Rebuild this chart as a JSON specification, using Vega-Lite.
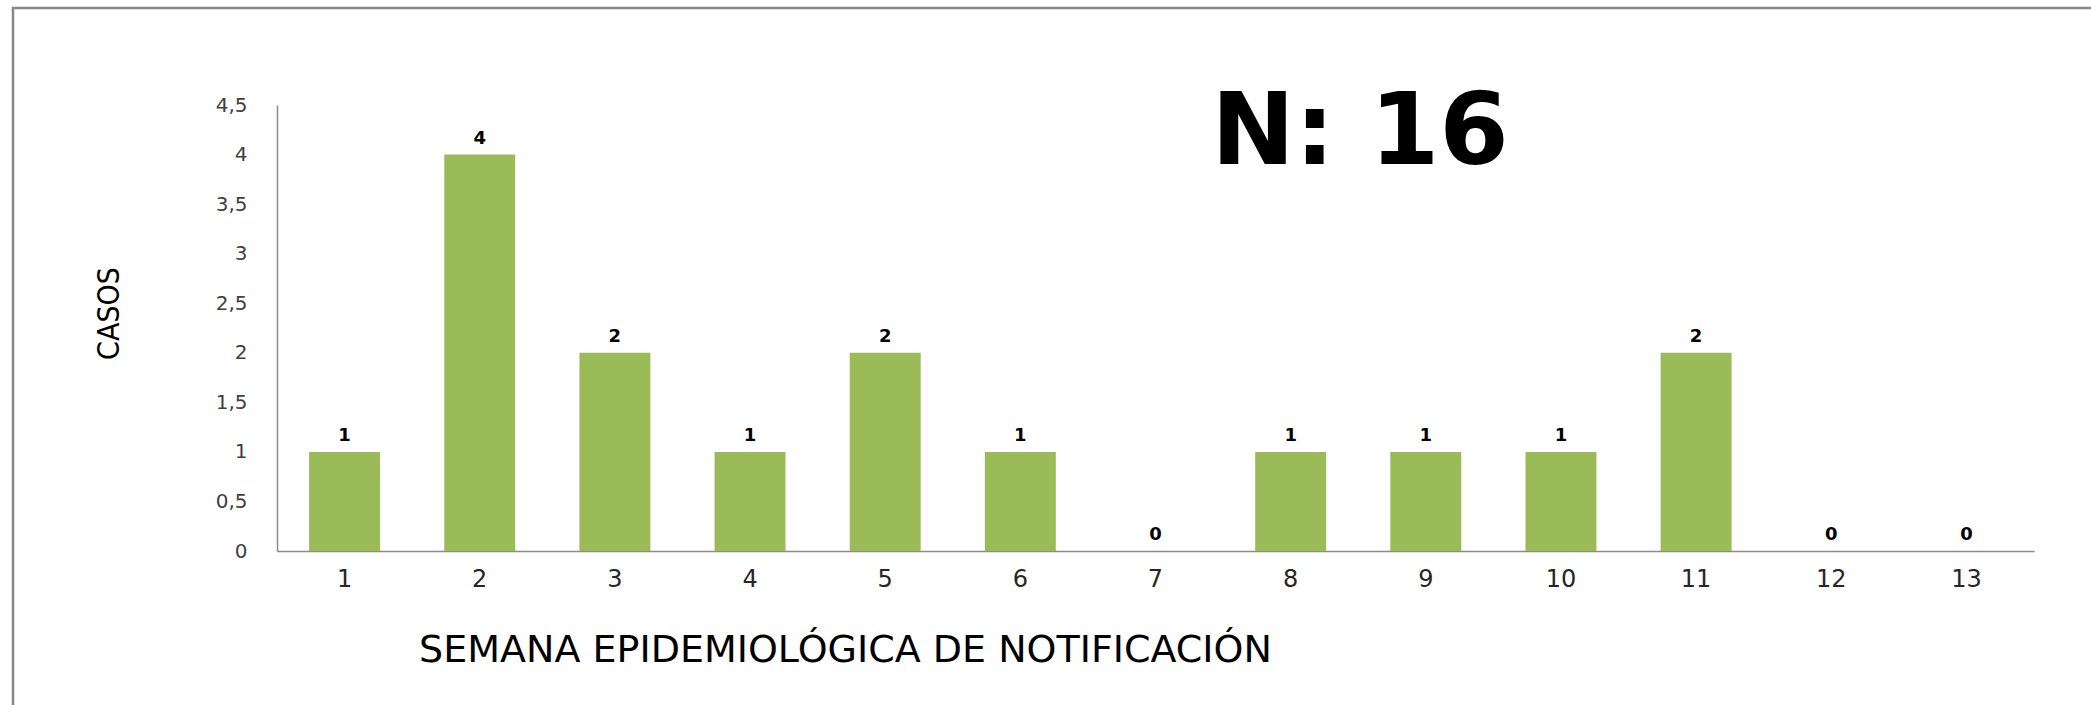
{
  "$schema": "https://vega.github.io/schema/vega-lite/v6.json",
  "width": 2080,
  "height": 720,
  "autosize": {"type": "none"},
  "padding": {"left": 13, "top": 8, "right": -2, "bottom": -23},
  "background": "white",
  "title": {
    "text": "N: 16",
    "font": "DejaVu Sans",
    "fontWeight": "bold",
    "fontSize": 100,
    "color": "#000000",
    "anchor": "middle",
    "frame": "group",
    "baseline": "alphabetic",
    "dx": 307,
    "offset": -256
  },
  "data": {
    "values": [
      {"semana": "1", "casos": 1},
      {"semana": "2", "casos": 4},
      {"semana": "3", "casos": 2},
      {"semana": "4", "casos": 1},
      {"semana": "5", "casos": 2},
      {"semana": "6", "casos": 1},
      {"semana": "7", "casos": 0},
      {"semana": "8", "casos": 1},
      {"semana": "9", "casos": 1},
      {"semana": "10", "casos": 1},
      {"semana": "11", "casos": 2},
      {"semana": "12", "casos": 0},
      {"semana": "13", "casos": 0}
    ]
  },
  "encoding": {
    "x": {
      "field": "semana",
      "type": "ordinal",
      "sort": null,
      "scale": {"range": [264, 2021], "paddingInner": 0.475, "paddingOuter": 0.2375},
      "axis": {
        "offset": -177,
        "title": "SEMANA EPIDEMIOLÓGICA DE NOTIFICACIÓN",
        "titleFont": "DejaVu Sans",
        "titleFontSize": 38,
        "titleFontWeight": "normal",
        "titleColor": "#000000",
        "titleAnchor": null,
        "titleAlign": "center",
        "titleBaseline": "alphabetic",
        "titleX": 832,
        "titleY": 110,
        "labelAngle": 0,
        "labelFont": "DejaVu Sans",
        "labelFontSize": 24,
        "labelColor": "#262626",
        "labelPadding": 16,
        "labelBaseline": "top",
        "ticks": false,
        "domainColor": "#8c8c8c",
        "domainWidth": 1.5
      }
    },
    "y": {
      "field": "casos",
      "type": "quantitative",
      "scale": {"domain": [0, 4.5], "nice": false, "range": [543, 97]},
      "axis": {
        "offset": -264,
        "title": "CASOS",
        "titleFont": "Liberation Sans Narrow, DejaVu Sans Condensed, sans-serif",
        "titleFontSize": 30,
        "titleFontWeight": "normal",
        "titleColor": "#000000",
        "titleAngle": 270,
        "titleAlign": "center",
        "titleBaseline": "middle",
        "titleX": -168,
        "titleY": 305,
        "values": [0, 0.5, 1, 1.5, 2, 2.5, 3, 3.5, 4, 4.5],
        "labelExpr": "replace(toString(datum.value), '.', ',')",
        "labelFont": "DejaVu Sans",
        "labelFontSize": 20,
        "labelColor": "#3f3f3f",
        "labelPadding": 30,
        "ticks": false,
        "grid": false,
        "domainColor": "#8c8c8c",
        "domainWidth": 1.5
      }
    }
  },
  "layer": [
    {"mark": {"type": "bar", "color": "#9BBB59"}},
    {
      "mark": {
        "type": "text",
        "font": "DejaVu Sans",
        "fontWeight": "bold",
        "fontSize": 18,
        "color": "#000000",
        "baseline": "alphabetic",
        "dy": -11
      },
      "encoding": {"text": {"field": "casos", "type": "quantitative"}}
    }
  ],
  "config": {"view": {"stroke": "#888888", "strokeWidth": 2.5}}
}
